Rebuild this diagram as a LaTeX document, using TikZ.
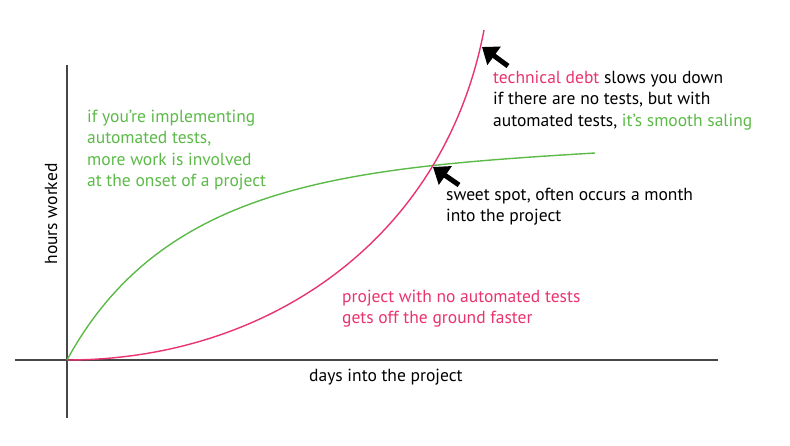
\documentclass[tikz,border=0pt]{standalone}
\usepackage{fontspec}
\setmainfont{PT Sans}
\usetikzlibrary{arrows.meta}
\definecolor{debtpink}{RGB}{233,52,110}
\definecolor{testgreen}{RGB}{92,186,72}
\definecolor{axisgray}{RGB}{70,70,70}
\begin{document}
\begin{tikzpicture}
  [x=1pt,y=-1pt,
   every node/.style={inner sep=0pt,align=left,font=\fontsize{17.5}{21.5}\selectfont},
   axis/.style={draw=axisgray,line width=1.6pt},
   curve/.style={line width=1.4pt},
   bigarrow/.style={line width=5pt,-{Triangle[length=15pt,width=22pt]}}]
  \useasboundingbox (0,0) rectangle (790,446);

  % axes
  \coordinate (ytop) at (67,65);
  \coordinate (ybot) at (67,418);
  \coordinate (xleft) at (15,360);
  \coordinate (xright) at (718,360);
  \coordinate (origin) at (67,360);
  \draw[axis] (ybot) -- (ytop);
  \draw[axis] (xleft) -- (xright);

  % curves
  \coordinate (greenend) at (595,153);
  \coordinate (pinkend) at (484,30);
  \draw[curve,testgreen] (origin) .. controls (163,184) and (345,168) .. (greenend);
  \draw[curve,debtpink] (origin) .. controls (267,360) and (444,240) .. (pinkend);

  % labels
  \node (xlabel) [anchor=north west] at (309,368.5) {days into the project};
  \node (ylabel) [anchor=base,rotate=90] at (57,214) {hours worked};
  \node (early) [anchor=north west,text=testgreen] at (87,109.5)
    {if you’re implementing\\automated tests,\\more work is involved\\at the onset of a project};
  \node (fast) [anchor=north west,text=debtpink] at (342,289.5)
    {project with no automated tests\\gets off the ground faster};
  \node (debt) [anchor=north west] at (493,70.5)
    {\textcolor{debtpink}{technical debt} slows you down\\if there are no tests, but with\\automated tests, \textcolor{testgreen}{it’s smooth saling}};
  \node (sweet) [anchor=north west] at (446,187.5)
    {sweet spot, often occurs a month\\into the project};

  % arrows
  \coordinate (debttip) at (482,47);
  \coordinate (debttail) at (508,66);
  \coordinate (sweettip) at (433,167);
  \coordinate (sweettail) at (459,185);
  \draw[bigarrow] (debttail) -- (debttip);
  \draw[bigarrow] (sweettail) -- (sweettip);
\end{tikzpicture}
\end{document}
